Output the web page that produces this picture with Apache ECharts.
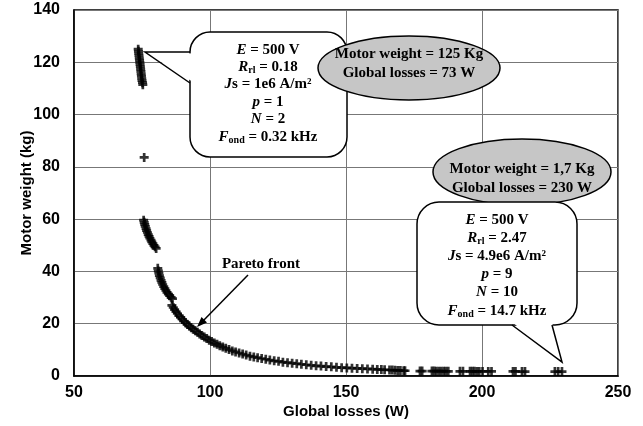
<!DOCTYPE html>
<html>
<head>
<meta charset="utf-8">
<script src="https://cdn.jsdelivr.net/npm/echarts@6/dist/echarts.min.js"></script>
<style>html,body{margin:0;padding:0;background:#fff}#c{width:643px;height:426px}</style>
</head>
<body>
<div id="c"></div>
<script>
// ---- data ----
var xTicks = [50, 100, 150, 200, 250];
var yTicks = [0, 20, 40, 60, 80, 100, 120, 140];
var globalLosses = [
  73.6,73.7,73.8,73.9,74.0,74.1,74.2,74.3,74.4,74.5,74.6,74.7,74.8,74.9,75.0,75.2,75.3,
  75.8,
  75.6,75.8,76.0,76.2,76.5,76.7,77.0,77.3,77.6,77.9,78.3,78.6,79.0,79.4,79.8,80.2,
  80.8,81.0,81.2,81.4,81.7,82.0,82.3,82.6,83.0,83.4,83.8,84.2,84.7,85.2,85.7,86.2,
  86.0,
  86.5,87.0,87.5,88.0,88.6,89.2,89.8,90.4,91.0,91.7,92.4,93.1,93.8,94.6,95.4,96.2,97.0,97.9,98.8,99.7,
  100.6,101.6,102.6,103.6,104.7,105.8,107.0,108.2,109.4,110.7,112.0,113.3,114.7,116.1,117.5,119.0,120.5,
  122.0,123.6,125.2,126.8,128.5,130.2,131.9,133.6,135.4,137.2,139.0,140.8,142.7,144.6,146.5,148.4,
  150.3,152.2,154.1,156.0,157.9,159.8,161.5,163.0,164.2,166.0,167.0,168.0,169.0,170.0,171.2,171.7,
  177.2,178.0,181.6,182.4,183.2,184.1,185.0,185.9,186.7,187.6,191.9,193.0,
  195.6,196.4,197.2,198.1,199.0,200.2,202.3,203.5,211.4,212.3,214.7,215.8,226.8,228.0,229.4
];
var motorWeight = [
  125,124.2,123.3,122.5,121.6,120.8,120,119.1,118.3,117.4,116.5,115.6,114.7,113.8,113,112.2,111.4,
  83.6,
  59.6,58.8,58.0,57.2,56.4,55.6,54.9,54.1,53.4,52.7,52.0,51.3,50.6,50.0,49.4,48.8,
  41.2,40.2,39.3,38.4,37.5,36.6,35.8,35.0,34.2,33.4,32.7,32.0,31.3,30.7,30.1,29.6,
  27.0,
  26.2,25.4,24.6,23.9,23.1,22.4,21.7,21.0,20.4,19.7,19.1,18.5,17.9,17.3,16.7,16.1,15.5,14.9,14.3,13.7,
  13.2,12.6,12.1,11.6,11.1,10.6,10.1,9.6,9.2,8.8,8.4,8.0,7.6,7.3,7.0,6.7,6.4,
  6.1,5.8,5.6,5.3,5.1,4.9,4.7,4.5,4.3,4.1,3.9,3.8,3.6,3.5,3.3,3.2,
  3.1,3.0,2.9,2.8,2.7,2.6,2.5,2.45,2.4,2.3,2.25,2.2,2.15,2.1,2.0,2.0,
  1.9,1.9,1.9,1.9,1.85,1.85,1.85,1.85,1.8,1.8,1.8,1.8,
  1.8,1.8,1.8,1.75,1.75,1.75,1.75,1.75,1.75,1.75,1.7,1.7,1.7,1.7,1.7
];
var xAxisTitle = 'Global losses (W)';
var yAxisTitle = 'Motor weight (kg)';
var paretoLabel = 'Pareto front';
var bubble1Lines = ['{i|E} = 500 V', '{i|R}{s|rl} = 0.18', '{i|J}s = 1e6 A/m²', '{i|p} = 1', '{i|N} = 2', '{i|F}{s|ond} = 0.32 kHz'];
var ellipse1Lines = ['Motor weight = 125 Kg', 'Global losses = 73 W'];
var bubble2Lines = ['{i|E} = 500 V', '{i|R}{s|rl} = 2.47', '{i|J}s = 4.9e6 A/m²', '{i|p} = 9', '{i|N} = 10', '{i|F}{s|ond} = 14.7 kHz'];
var ellipse2Lines = ['Motor weight = 1,7 Kg', 'Global losses = 230 W'];

// ---- chart ----
var points = globalLosses.map(function (x, i) { return [x, motorWeight[i]]; });
var sansFont = "'Liberation Sans', Arial, sans-serif";
var serif = "'Liberation Serif', 'Times New Roman', serif";
var crossPath = 'path://M3.5,0h3v3.5h3.5v3h-3.5v3.5h-3v-3.5h-3.5v-3h3.5z';

var richStyles = {
  i: { fontFamily: serif, fontWeight: 'bold', fontStyle: 'italic', fontSize: 15, fill: '#000' },
  s: { fontFamily: serif, fontWeight: 'bold', fontSize: 10, fill: '#000', padding: [7, 0, 0, 0] }
};

function textLines(lines, cx, ys, rich) {
  return lines.map(function (t, k) {
    return {
      type: 'text', z: 102,
      style: {
        text: t, x: cx, y: ys[k], align: 'center', verticalAlign: 'middle',
        fontFamily: serif, fontWeight: 'bold', fontSize: 15, fill: '#000',
        rich: rich ? richStyles : undefined
      }
    };
  });
}

var graphics = [];
// bubble 1
graphics.push({ type: 'rect', z: 100, shape: { x: 190, y: 32, width: 157, height: 125, r: 20 }, style: { fill: '#fff', stroke: '#000', lineWidth: 1.5 } });
graphics.push({ type: 'polygon', z: 101, shape: { points: [[193, 53.5], [145, 52], [193, 82]] }, style: { fill: '#fff' } });
graphics.push({ type: 'polyline', z: 101, shape: { points: [[190, 52], [145, 52], [190, 83]] }, style: { stroke: '#000', lineWidth: 1.5, fill: null } });
graphics = graphics.concat(textLines(bubble1Lines, 268, [50, 67, 84, 102, 119, 137], true));
// ellipse 1
graphics.push({ type: 'ellipse', z: 100, shape: { cx: 409, cy: 68, rx: 91, ry: 32 }, style: { fill: '#c6c6c6', stroke: '#000', lineWidth: 1.5 } });
graphics = graphics.concat(textLines(ellipse1Lines, 409, [54, 73], false));
// ellipse 2
graphics.push({ type: 'ellipse', z: 100, shape: { cx: 522, cy: 172, rx: 89, ry: 33 }, style: { fill: '#c6c6c6', stroke: '#000', lineWidth: 1.5 } });
graphics = graphics.concat(textLines(ellipse2Lines, 522, [169, 188], false));
// bubble 2
graphics.push({ type: 'rect', z: 100, shape: { x: 417, y: 202, width: 160, height: 123, r: 22 }, style: { fill: '#fff', stroke: '#000', lineWidth: 1.5 } });
graphics.push({ type: 'polygon', z: 101, shape: { points: [[512, 322], [562, 362], [552, 322]] }, style: { fill: '#fff' } });
graphics.push({ type: 'polyline', z: 101, shape: { points: [[512, 325], [562, 362], [552, 325]] }, style: { stroke: '#000', lineWidth: 1.5, fill: null } });
graphics = graphics.concat(textLines(bubble2Lines, 497, [220, 238, 256, 274, 292, 311], true));
// Pareto front label + arrow
graphics.push({ type: 'text', z: 102, style: { text: paretoLabel, x: 261, y: 264, align: 'center', verticalAlign: 'middle', fontFamily: serif, fontWeight: 'bold', fontSize: 15, fill: '#000' } });
graphics.push({ type: 'line', z: 101, shape: { x1: 248, y1: 275, x2: 201, y2: 323 }, style: { stroke: '#000', lineWidth: 1.5 } });
graphics.push({ type: 'polygon', z: 101, shape: { points: [[197, 327], [207, 322.5], [201.5, 317]] }, style: { fill: '#000' } });

var chart = echarts.init(document.getElementById('c'), null, { renderer: 'canvas' });
chart.setOption({
  animation: false,
  backgroundColor: '#fff',
  grid: { left: 74, right: 25, top: 10, bottom: 50, show: true, borderColor: '#000', borderWidth: 1.5, backgroundColor: 'transparent' },
  xAxis: {
    type: 'value', min: xTicks[0], max: xTicks[xTicks.length - 1], interval: 50,
    name: xAxisTitle, nameLocation: 'middle', nameGap: 28, nameMoveOverlap: false,
    nameTextStyle: { fontFamily: sansFont, fontWeight: 'bold', fontSize: 15, color: '#000' },
    axisLine: { lineStyle: { color: '#000', width: 1.5 } },
    axisTick: { show: false },
    axisLabel: { fontFamily: sansFont, fontWeight: 'bold', fontSize: 16, color: '#000', margin: 9 },
    splitLine: { show: true, lineStyle: { color: '#777', width: 1 } }
  },
  yAxis: {
    type: 'value', min: yTicks[0], max: yTicks[yTicks.length - 1], interval: 20,
    name: yAxisTitle, nameLocation: 'middle', nameGap: 40, nameMoveOverlap: false,
    nameTextStyle: { fontFamily: sansFont, fontWeight: 'bold', fontSize: 15, color: '#000' },
    axisLine: { show: true, lineStyle: { color: '#000', width: 1.5 } },
    axisTick: { show: false },
    axisLabel: { fontFamily: sansFont, fontWeight: 'bold', fontSize: 16, color: '#000', margin: 14 },
    splitLine: { show: true, lineStyle: { color: '#777', width: 1 } }
  },
  series: [{
    type: 'scatter',
    data: points,
    symbol: crossPath,
    symbolSize: 9,
    itemStyle: { color: '#000' },
    z: 5
  }],
  graphic: { elements: graphics }
});
</script>
</body>
</html>
